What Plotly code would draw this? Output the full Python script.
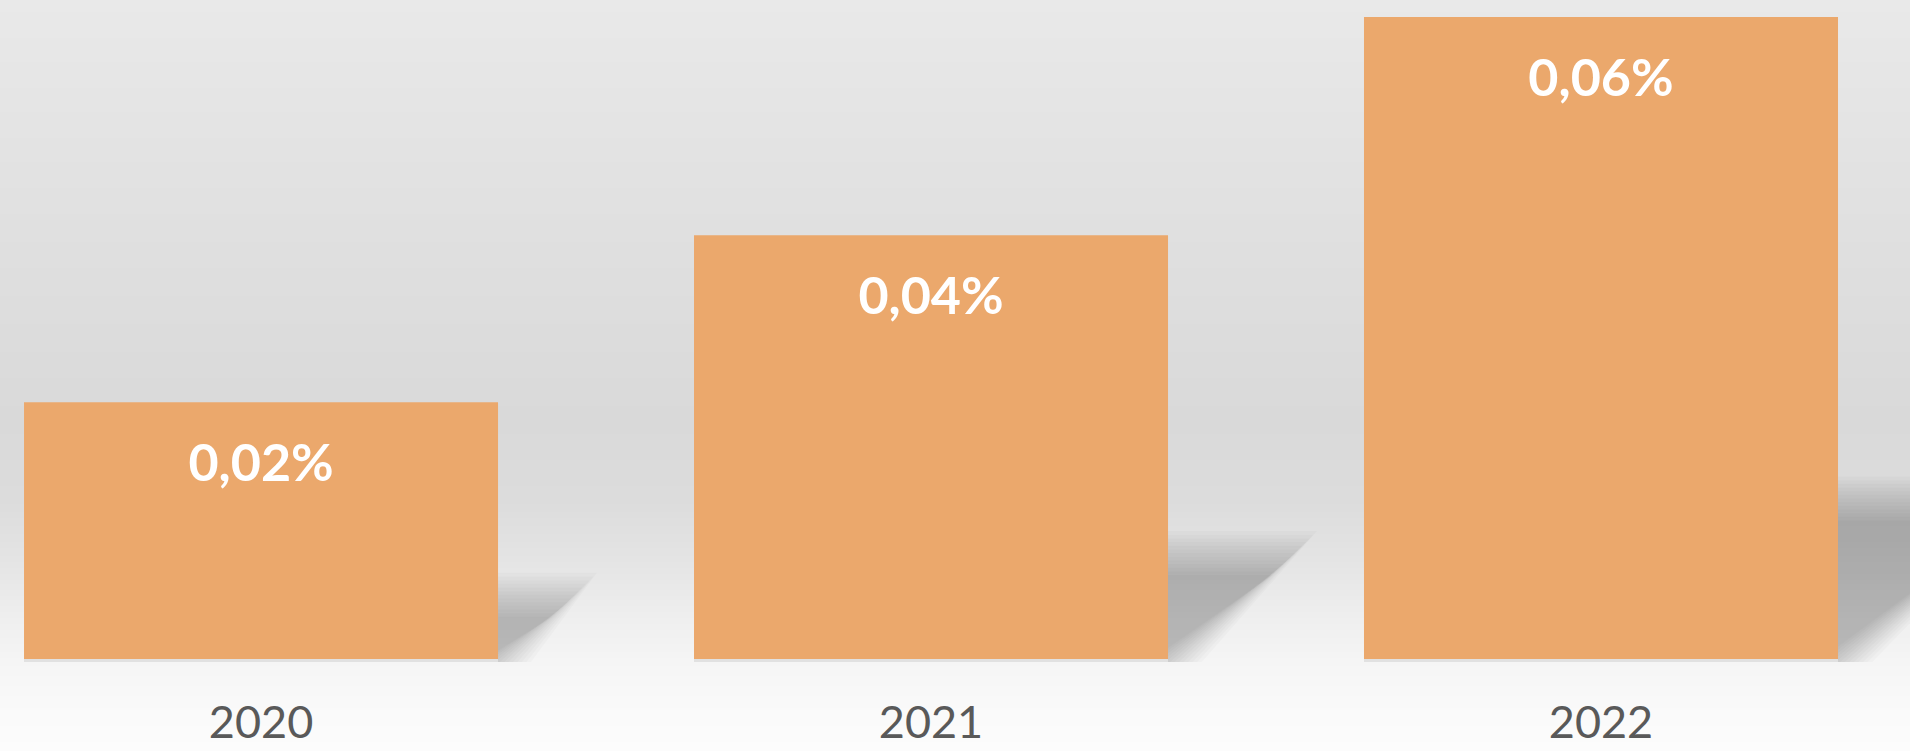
import plotly.graph_objects as go

# ---- data ----
years = ["2020", "2021", "2022"]
share_pct = [0.024, 0.0396, 0.06]

# ---- geometry / style ----
W, H = 1910, 751
PLOT_BOTTOM = 662            # plot area height in px (margin below holds the year labels)
BAR_COLOR = "#EBA86C"
LABEL_FONT = "Lato, 'Open Sans', sans-serif"
LABEL_DROP_PX = 66           # value label centre sits this far below the bar top

x_range = [-0.3896, 2.4612]
y_range = [-0.00028, 0.06159]
bar_width = 0.7075

px_per_x = W / (x_range[1] - x_range[0])
px_per_y = PLOT_BOTTOM / (y_range[1] - y_range[0])

# vertical grey gradient behind the whole chart: (pixel row, grey level)
gradient_stops = [(0, 233), (200, 225), (420, 217), (500, 220), (560, 228),
                  (620, 239), (662, 245), (700, 249), (751, 252)]


def grey_at(py):
    for (a, ga), (b, gb) in zip(gradient_stops, gradient_stops[1:]):
        if a <= py <= b:
            t = (py - a) / (b - a)
            return round(ga + (gb - ga) * t)
    return gradient_stops[-1][1]


def to_paper_y(py):
    return (PLOT_BOTTOM - py) / PLOT_BOTTOM


shapes = []
step = 2
for py in range(0, H, step):
    g = grey_at(py + step / 2)
    shapes.append(dict(
        type="rect", xref="paper", yref="paper", layer="below",
        x0=0, x1=1, y0=to_paper_y(py + step + 0.5), y1=to_paper_y(py),
        fillcolor=f"rgb({g},{g},{g})", line=dict(width=0),
    ))

# soft perspective shadow cast to the lower right of every bar
N_BLUR = 13
BLUR_PX = 22
for i, v in enumerate(share_pct):
    h_px = v * px_per_y
    dx = 0.30 * h_px / px_per_x
    dy = 0.25 * v
    xl, xr = i - bar_width / 2, i + bar_width / 2
    y_floor = y_range[0] * 3
    for k in range(N_BLUR):
        e = BLUR_PX * (1 - 2 * k / (N_BLUR - 1))
        ex, ey = e / px_per_x, e / px_per_y
        path = (f"M {xl + dx} {dy + ey} "
                f"L {xr + dx + ex} {dy + ey} "
                f"L {xr + 1.3 * ex} {y_floor} "
                f"L {xl} {y_floor} Z")
        shapes.append(dict(
            type="path", xref="x", yref="y", layer="below", path=path,
            fillcolor="rgba(0,0,0,0.018)", line=dict(width=0),
        ))
    # thin grey foot under the bar
    shapes.append(dict(
        type="rect", xref="x", yref="y", layer="below",
        x0=xl, x1=xr, y0=y_range[0] * 2, y1=0,
        fillcolor="rgb(225,225,225)", line=dict(width=0),
    ))

value_labels = [f"{v:.2f}".replace(".", ",") + "%" for v in share_pct]

fig = go.Figure()
fig.add_trace(go.Bar(
    x=years, y=share_pct, width=bar_width,
    marker=dict(color=BAR_COLOR, line=dict(width=0)),
    hoverinfo="skip",
))
# value labels inside the top of each bar
fig.add_trace(go.Scatter(
    x=years, y=[v - LABEL_DROP_PX / px_per_y for v in share_pct],
    mode="text", text=value_labels, textposition="middle center",
    textfont=dict(family=LABEL_FONT, size=52, color="white", weight="bold"),
    hoverinfo="skip", cliponaxis=False,
))

fig.update_layout(
    width=W, height=H,
    margin=dict(l=0, r=0, t=0, b=H - PLOT_BOTTOM, pad=0, autoexpand=False),
    paper_bgcolor="white", plot_bgcolor="rgba(0,0,0,0)",
    showlegend=False, shapes=shapes,
    xaxis=dict(type="category", range=x_range, showgrid=False, zeroline=False,
               showline=False, ticks="", ticklabelstandoff=30, automargin=False,
               tickfont=dict(family=LABEL_FONT, size=45, color="#595959")),
    yaxis=dict(range=y_range, visible=False, showgrid=False, zeroline=False,
               automargin=False),
)

fig.write_html("out.html")
